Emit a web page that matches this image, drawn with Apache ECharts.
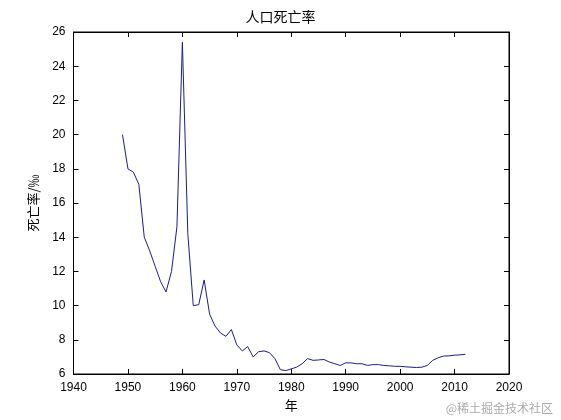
<!DOCTYPE html>
<html lang="zh">
<head>
    <meta charset="UTF-8">
    <title>人口死亡率</title>
    <script type="text/javascript" src="https://cdn.jsdelivr.net/npm/echarts@6/dist/echarts.min.js"></script>
    <style>
        html, body {margin: 0; padding: 0; background: #fff;}
    </style>
</head>
<body>
<div id="main" style="width: 561px;height:420px;"></div>

<script type="text/javascript">
    // 年份与死亡率（‰）
    var years = [1949, 1950, 1951, 1952, 1953, 1954, 1955, 1956, 1957, 1958, 1959,
        1960, 1961, 1962, 1963, 1964, 1965, 1966, 1967, 1968, 1969,
        1970, 1971, 1972, 1973, 1974, 1975, 1976, 1977, 1978, 1979,
        1980, 1981, 1982, 1983, 1984, 1985, 1986, 1987, 1988, 1989,
        1990, 1991, 1992, 1993, 1994, 1995, 1996, 1997, 1998, 1999,
        2000, 2001, 2002, 2003, 2004, 2005, 2006, 2007, 2008, 2009,
        2010, 2011, 2012];
    var rates = [20.0, 18.0, 17.8, 17.1, 14.0, 13.2, 12.3, 11.4, 10.8, 12.0, 14.6,
        25.4, 14.2, 10.0, 10.05, 11.5, 9.5, 8.8, 8.4, 8.2, 8.6,
        7.7, 7.35, 7.6, 7.0, 7.3, 7.35, 7.25, 6.9, 6.25, 6.2,
        6.3, 6.4, 6.6, 6.9, 6.8, 6.82, 6.85, 6.7, 6.6, 6.5,
        6.65, 6.65, 6.6, 6.6, 6.5, 6.55, 6.55, 6.5, 6.48, 6.45,
        6.45, 6.42, 6.4, 6.38, 6.4, 6.5, 6.8, 6.95, 7.05, 7.06,
        7.1, 7.12, 7.15];
    var yTicks = [6, 8, 10, 12, 14, 16, 18, 20, 22, 24, 26];
    var xTicks = [1940, 1950, 1960, 1970, 1980, 1990, 2000, 2010, 2020];

    var points = years.map(function (y, i) { return [y, rates[i]]; });

    var myChart = echarts.init(document.getElementById('main'));

    var axisFont = {
        color: '#000', fontSize: 12, fontFamily: 'Liberation Sans, Arial, sans-serif',
        formatter: function (v) { return String(v); }
    };

    var option = {
        backgroundColor: '#fff',
        animation: false,
        title: {
            text: '人口死亡率',
            left: 'center',
            top: 5,
            textStyle: {fontSize: 14, fontWeight: 'normal', color: '#000', fontFamily: 'Noto Sans CJK SC'}
        },
        grid: {left: 73.5, right: 52, top: 32, bottom: 46, show: true, borderColor: '#000', borderWidth: 1},
        xAxis: [{
            type: 'value',
            min: xTicks[0],
            max: xTicks[xTicks.length - 1],
            interval: 10,
            name: '年',
            nameLocation: 'middle',
            nameGap: 20,
            nameTextStyle: {fontSize: 13, color: '#000', fontFamily: 'Noto Sans CJK SC'},
            axisLine: {lineStyle: {color: '#000'}},
            axisTick: {inside: true, length: 5, lineStyle: {color: '#000'}},
            axisLabel: axisFont,
            splitLine: {show: false}
        }, {
            type: 'value',
            position: 'top',
            min: xTicks[0],
            max: xTicks[xTicks.length - 1],
            interval: 10,
            axisLine: {lineStyle: {color: '#000'}},
            axisTick: {inside: true, length: 5, lineStyle: {color: '#000'}},
            axisLabel: {show: false},
            splitLine: {show: false}
        }],
        yAxis: [{
            type: 'value',
            min: yTicks[0],
            max: yTicks[yTicks.length - 1],
            interval: 2,
            name: '死亡率/‰',
            nameLocation: 'middle',
            nameGap: 34,
            nameTextStyle: {fontSize: 13, color: '#000', fontFamily: 'Noto Sans CJK SC'},
            axisLine: {lineStyle: {color: '#000'}},
            axisTick: {inside: true, length: 5, lineStyle: {color: '#000'}},
            axisLabel: axisFont,
            splitLine: {show: false}
        }, {
            type: 'value',
            position: 'right',
            min: yTicks[0],
            max: yTicks[yTicks.length - 1],
            interval: 2,
            axisLine: {show: true, lineStyle: {color: '#000'}},
            axisTick: {show: true, inside: true, length: 5, lineStyle: {color: '#000'}},
            axisLabel: {show: false},
            splitLine: {show: false}
        }],
        graphic: [{
            type: 'text',
            right: 8,
            bottom: 6,
            style: {text: '@稀土掘金技术社区', fill: '#aaa', fontSize: 12, fontFamily: 'Noto Sans CJK SC'}
        }],
        series: [{
            name: '死亡率',
            type: 'line',
            data: points,
            showSymbol: false,
            lineStyle: {color: '#1c1c8c', width: 1},
            itemStyle: {color: '#1c1c8c'}
        }]
    };

    myChart.setOption(option);
</script>
</body>
</html>
